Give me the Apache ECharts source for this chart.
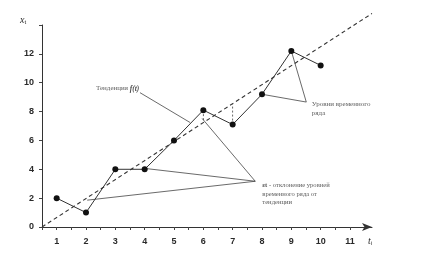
<!DOCTYPE html>
<html><head><meta charset="utf-8">
<script src="https://cdn.jsdelivr.net/npm/echarts@6/dist/echarts.min.js"></script>
<style>html,body{margin:0;padding:0;background:#fff}#c{width:435px;height:258px}</style>
</head><body><div id="c"></div>
<script>
// data
const tValues = [1, 2, 3, 4, 5, 6, 7, 8, 9, 10];
const levels = [2, 1, 4, 4, 6, 8.1, 7.1, 9.2, 12.2, 11.2];
const trendT = [0.5, 11.75];
const trendV = [0, 14.8];
const devT = [6, 7];
const devFrom = [8.1, 7.1];
const devTo = [7.25, 8.55];
const yTicks = [0, 2, 4, 6, 8, 10, 12];
const xTickLabels = [1, 2, 3, 4, 5, 6, 7, 8, 9, 10, 11];
// annotation anchors (data coords)
const trendPointer = [[3.84, 9.31], [5.55, 7.24]];
const epsVertex = [7.77, 3.17];
const epsTargets = [[2.04, 1.86], [4.05, 4.05], [5.96, 7.52]];
const lvlVertex = [9.51, 8.66];
const lvlTargets = [[9, 12.2], [8, 9.2]];
const textTrend = { pos: [2.34, 9.59], text: 'Тенденция {i|f(t)}' };
const textEps = { pos: [8.01, 2.95], text: '{b|εt} - отклонение уровней\nвременного ряда от\nтенденции' };
const textLvl = { pos: [9.70, 8.55], text: 'Уровни временного\nряда' };

const chart = echarts.init(document.getElementById('c'));
const ink = '#2a2a2a';
const thin = { color: '#444', width: 0.8 };
function seg(a, b) { return { type: 'line', data: [a, b], symbol: 'none', lineStyle: thin, silent: true, z: 1 }; }
const series = [];
series.push({ type: 'line', data: trendT.map((t, i) => [t, trendV[i]]), symbol: 'none', clip: false,
  lineStyle: { color: '#333', width: 1.1, type: [4, 3] }, z: 2 });
devT.forEach((t, i) => series.push({ type: 'line', data: [[t, devFrom[i]], [t, devTo[i]]], symbol: 'none',
  lineStyle: { color: '#444', width: 0.8, type: [2, 2] } }));
series.push(seg(trendPointer[0], trendPointer[1]));
epsTargets.forEach(p => series.push(seg(epsVertex, p)));
lvlTargets.forEach(p => series.push(seg(lvlVertex, p)));
series.push({ type: 'line', data: tValues.map((t, i) => [t, levels[i]]), symbol: 'circle', symbolSize: 6,
  itemStyle: { color: '#111' }, lineStyle: { color: '#333', width: 1 }, z: 5 });
function txt(o, size) {
  return { type: 'scatter', data: [o.pos], symbolSize: 0, silent: true,
    label: { show: true, position: 'right', distance: 0, formatter: o.text, color: '#333', fontSize: size,
      fontFamily: 'Liberation Serif', lineHeight: size + 2.3, align: 'left', verticalAlign: 'top', offset: [0, -4],
      rich: { i: { fontStyle: 'italic', fontWeight: 'bold', fontSize: size + 0.5, color: '#222', fontFamily: 'Liberation Serif' },
              b: { fontWeight: 'bold', fontSize: size, color: '#222', fontFamily: 'Liberation Serif' } } } };
}
const tt = txt(textTrend, 7); tt.label.verticalAlign = 'middle'; tt.label.offset = [0, 0];
series.push(tt);
series.push(txt(textEps, 6.6));
series.push(txt(textLvl, 7));

chart.setOption({
  animation: false,
  backgroundColor: '#fff',
  grid: { left: 42, right: 63, top: 25, bottom: 31 },
  xAxis: { type: 'value', min: 0.5, max: 11.75, interval: 0.5,
    name: '{m|t}{s|i}', nameLocation: 'end', nameGap: 0,
    nameTextStyle: { padding: [28, 0, 0, -4], rich: { m: { fontSize: 10, fontStyle: 'italic', fontFamily: 'Liberation Serif', color: ink }, s: { fontSize: 6, color: ink, padding: [4, 0, 0, 0] } } },
    axisLine: { lineStyle: { color: '#333', width: 1 }, symbol: ['none', 'arrow'], symbolSize: [6, 10] },
    axisTick: { show: true, length: 3, lineStyle: { color: '#444' } },
    axisLabel: { color: ink, fontSize: 9, fontWeight: 'bold', fontFamily: 'Liberation Sans', margin: 10,
      formatter: v => (Number.isInteger(v) && xTickLabels.includes(v)) ? String(v) : '' , showMaxLabel: false},
    splitLine: { show: false } },
  yAxis: { type: 'value', min: 0, max: 14, interval: 2,
    name: '{m|x}{s|t}', nameLocation: 'end', nameGap: 0,
    nameTextStyle: { padding: [0, 38, 0, 0], rich: { m: { fontSize: 10, fontStyle: 'italic', fontFamily: 'Liberation Serif', color: ink }, s: { fontSize: 6, color: ink, padding: [4, 0, 0, 0] } } },
    axisLine: { show: true, lineStyle: { color: '#333', width: 1 } },
    axisTick: { show: true, length: 3, lineStyle: { color: '#444' } },
    axisLabel: { color: ink, fontSize: 9, fontWeight: 'bold', fontFamily: 'Liberation Sans', margin: 8,
      formatter: v => yTicks.includes(v) ? String(v) : '' },
    splitLine: { show: false } },
  series: series
});
</script></body></html>
